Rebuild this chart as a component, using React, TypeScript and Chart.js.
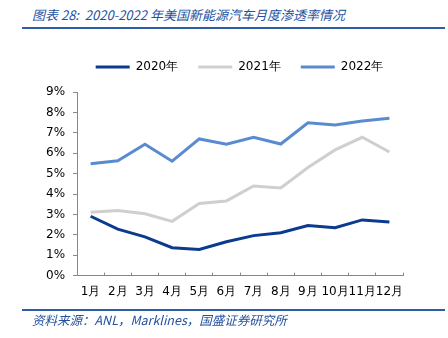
import React, { useEffect, useRef } from "react";
import { Chart, registerables } from "chart.js";

Chart.register(...registerables);

const months = ["1月", "2月", "3月", "4月", "5月", "6月", "7月", "8月", "9月", "10月", "11月", "12月"];
const series2020 = [2.91, 2.28, 1.9, 1.37, 1.28, 1.66, 1.96, 2.1, 2.45, 2.35, 2.73, 2.63];
const series2021 = [3.11, 3.19, 3.03, 2.66, 3.54, 3.66, 4.39, 4.3, 5.3, 6.16, 6.78, 6.06];
const series2022 = [5.48, 5.63, 6.44, 5.61, 6.7, 6.44, 6.78, 6.45, 7.49, 7.38, 7.58, 7.71];
const seriesNames = ["2020年", "2021年", "2022年"];
const seriesColors = ["#0b3b8f", "#cfcfcf", "#5a8bd0"];

const titleText = "图表 28:  2020-2022 年美国新能源汽车月度渗透率情况";
const sourceText = "资料来源：ANL，Marklines，国盛证券研究所";

const FONT = "'DejaVu Sans', Verdana, sans-serif";

const legendShift = {
  id: "legendShift",
  afterLayout(chart: any) {
    if (chart.legend) {
      chart.legend.left += 19;
      chart.legend.right += 19;
    }
  },
};

export default function App() {
  const ref = useRef<HTMLCanvasElement>(null);

  useEffect(() => {
    if (!ref.current) return;
    const data = [series2020, series2021, series2022];
    const chart = new Chart(ref.current, {
      type: "line",
      data: {
        labels: months,
        datasets: data.map((d, i) => ({
          label: seriesNames[i],
          data: d,
          borderColor: seriesColors[i],
          backgroundColor: seriesColors[i],
          borderWidth: 3,
          pointRadius: 0,
          tension: 0,
          fill: false,
        })),
      },
      plugins: [legendShift],
      options: {
        animation: false,
        responsive: false,
        layout: { padding: { left: 38, right: 45, top: 0, bottom: 0 } },
        plugins: {
          tooltip: { enabled: false },
          title: {
            display: true,
            text: "",
            weight: 100,
            padding: 0,
            font: { size: 9, lineHeight: 1 },
          } as any,
          legend: {
            position: "top",
            labels: {
              font: { family: FONT, size: 12 },
              color: "#000",
              boxWidth: 34,
              boxHeight: 3,
              padding: 20,
              generateLabels: (c) =>
                c.data.datasets.map((ds, i) => ({
                  text: ds.label as string,
                  fillStyle: seriesColors[i],
                  strokeStyle: seriesColors[i],
                  lineWidth: 0,
                  hidden: false,
                  datasetIndex: i,
                  fontColor: "#000",
                })),
            },
          },
        },
        scales: {
          x: {
            offset: true,
            grid: {
              offset: true,
              drawOnChartArea: false,
              drawTicks: true,
              tickLength: -3,
              color: "#888",
            },
            border: { color: "#888", width: 1 },
            ticks: {
              font: { family: FONT, size: 12 },
              color: "#000",
              autoSkip: false,
              maxRotation: 0,
              minRotation: 0,
              padding: 12,
            },
          },
          y: {
            min: 0,
            max: 9,
            grid: {
              drawOnChartArea: false,
              drawTicks: true,
              tickLength: 4,
              color: "#888",
            },
            border: { color: "#888", width: 1 },
            ticks: {
              stepSize: 1,
              autoSkip: false,
              font: { family: FONT, size: 12 },
              color: "#000",
              padding: 8,
              callback: (v) => `${v}%`,
            },
          },
        },
      },
    });
    return () => chart.destroy();
  }, []);

  return (
    <div
      style={{
        position: "absolute",
        top: 0,
        left: 0,
        width: 448,
        height: 338,
        background: "#fff",
        overflow: "hidden",
      }}
    >
      <div
        style={{
          position: "absolute",
          left: 32,
          top: 6,
          fontFamily: "'Noto Sans CJK SC', 'DejaVu Sans', sans-serif",
          fontStyle: "italic",
          fontSize: 13,
          lineHeight: "18px",
          color: "#24519f",
          whiteSpace: "pre",
        }}
      >
        {titleText}
      </div>
      <div
        style={{
          position: "absolute",
          left: 22,
          top: 27,
          width: 423,
          height: 2,
          background: "#2e5ea8",
        }}
      />
      <canvas
        ref={ref}
        width={448}
        height={270}
        style={{ position: "absolute", left: 0, top: 41, width: 448, height: 270 }}
      />
      <div
        style={{
          position: "absolute",
          left: 22,
          top: 309,
          width: 423,
          height: 1.5,
          background: "#2e5ea8",
        }}
      />
      <div
        style={{
          position: "absolute",
          left: 32,
          top: 312,
          fontFamily: "'Noto Sans CJK SC', 'DejaVu Sans', sans-serif",
          fontStyle: "italic",
          fontSize: 12.5,
          lineHeight: "16px",
          color: "#24519f",
          whiteSpace: "pre",
        }}
      >
        {sourceText}
      </div>
    </div>
  );
}
